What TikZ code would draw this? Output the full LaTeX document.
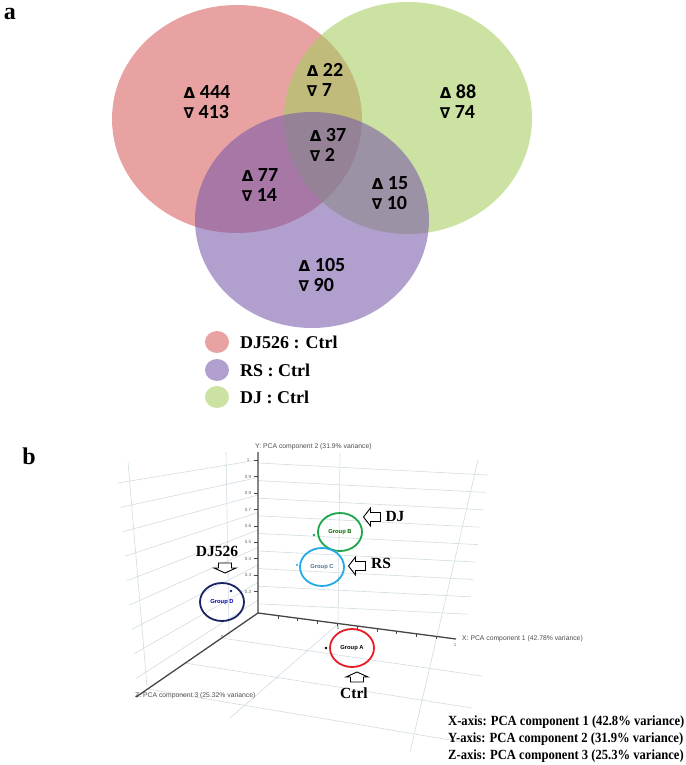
\documentclass[tikz,border=0pt]{standalone}
\usepackage{fontspec}
\setmainfont{Liberation Serif}
\newfontfamily\calfont{Carlito}
\newfontfamily\symfont{DejaVu Sans}
\newfontfamily\plotfont{Liberation Sans}
\usetikzlibrary{shapes.geometric}

\definecolor{vennred}{RGB}{215,95,95}
\definecolor{venngreen}{RGB}{165,205,95}
\definecolor{vennpurple}{RGB}{120,90,170}
\definecolor{gridc}{RGB}{208,220,226}
\definecolor{axisc}{RGB}{70,70,70}
\definecolor{grpA}{RGB}{228,30,36}
\definecolor{grpB}{RGB}{30,165,75}
\definecolor{grpC}{RGB}{35,170,230}
\definecolor{grpD}{RGB}{25,35,100}

\newcommand{\upsym}{{\symfont\bfseries\fontsize{15}{15}\selectfont Δ}}
\newcommand{\dnsym}{{\symfont\bfseries\fontsize{15}{15}\selectfont ∇}}

\begin{document}
\begin{tikzpicture}[x=1pt, y=-1pt,
  venn/.style={fill opacity=.58},
  cnt/.style={font=\calfont\bfseries\fontsize{20}{20}\selectfont, align=left, inner sep=0pt},
  legtxt/.style={font=\bfseries\fontsize{18}{20}\selectfont, anchor=west, inner sep=0pt},
  panel/.style={font=\bfseries\fontsize{24}{24}\selectfont, inner sep=0pt},
  gridln/.style={gridc, line width=0.6pt},
  axisln/.style={axisc, line width=1.3pt},
  axlbl/.style={font=\plotfont\fontsize{6.8}{7}\selectfont, text=black!70, inner sep=0pt, anchor=west},
  ticklbl/.style={font=\plotfont\fontsize{4.5}{5}\selectfont, text=black!60, inner sep=0pt},
  grp/.style={ellipse, draw, line width=1.8pt, minimum width=44pt, minimum height=38pt, inner sep=0pt,
    font=\plotfont\bfseries\fontsize{5.8}{6}\selectfont},
  tag/.style={font=\bfseries\fontsize{15.5}{16}\selectfont, inner sep=0pt},
  note/.style={font=\bfseries\fontsize{14}{17}\selectfont, inner sep=0pt, anchor=base west},
  harrow/.pic={\draw[line width=0.9pt, fill=white] (-8.5,-4.5) -- (1.5,-4.5) -- (1.5,-9) -- (8.5,0)
    -- (1.5,9) -- (1.5,4.5) -- (-8.5,4.5) -- cycle;},
  varrow/.pic={\draw[line width=0.9pt, fill=white] (-5,-6.5) -- (0,-6.5) -- (0,-11) -- (5,0)
    -- (0,11) -- (0,6.5) -- (-5,6.5) -- cycle;}
]
\useasboundingbox (0,0) rectangle (685,765);

% panel a: venn
\node[panel] (pa) at (10,14) {a};
\fill[vennred, venn] (237,119) ellipse [x radius=125pt, y radius=114pt];
\fill[venngreen, venn] (408,118) ellipse [x radius=124pt, y radius=116pt];
\fill[vennpurple, venn] (312,220) ellipse [x radius=117pt, y radius=108pt];

\node[cnt] (c444) at (207,102) {\upsym\ 444\\\dnsym\ 413};
\node[cnt] (c22) at (325,80) {\upsym\ 22\\\dnsym\ 7};
\node[cnt] (c88) at (458,102) {\upsym\ 88\\\dnsym\ 74};
\node[cnt] (c37) at (328,145) {\upsym\ 37\\\dnsym\ 2};
\node[cnt] (c77) at (260,185) {\upsym\ 77\\\dnsym\ 14};
\node[cnt] (c15) at (390,193) {\upsym\ 15\\\dnsym\ 10};
\node[cnt] (c105) at (322,275) {\upsym\ 105\\\dnsym\ 90};

% legend
\fill[vennred, venn] (217,342) ellipse [x radius=12pt, y radius=11pt];
\fill[vennpurple, venn] (217,370) ellipse [x radius=12pt, y radius=11pt];
\fill[venngreen, venn] (217,397) ellipse [x radius=12pt, y radius=11pt];
\node[legtxt] (legRed) at (240,342) {DJ526 : Ctrl};
\node[legtxt] (legPurple) at (240,370) {RS : Ctrl};
\node[legtxt] (legGreen) at (240,397) {DJ : Ctrl};

% panel b: pca
\node[panel] (pb) at (29,456) {b};
\coordinate (O) at (258,613);
\coordinate (ytip) at (258,452);
\coordinate (xtip) at (456,639);
\coordinate (ztip) at (136,697);

\foreach \i in {0,...,8}
  \draw[gridln] (258,463+17.6*\i) -- (488-2.5*\i,475+17.4*\i);
\foreach \i in {0,...,8}
  \draw[gridln] (258,460+17.5*\i) -- (118+2.3*\i,483+24.4*\i);
\draw[gridln] (128,462) -- (147,687);
\draw[gridln] (226,452) -- (229,637);
\draw[gridln] (340,453) -- (338,622);
\draw[gridln] (478,460) -- (410,752);
\draw[gridln] (338,624) -- (230,718);
\draw[gridln] (221,638) -- (482,676);
\draw[gridln] (185,663) -- (472,708);
\draw[gridln] (148,689) -- (462,742);

\draw[axisln] (ztip) -- (O) -- (ytip);
\draw[axisln] (O) -- (xtip);
\foreach \lab [count=\n] in {1,0.9,0.8,0.7,0.6,0.5,0.4,0.3,0.2} {
  \draw[axisc, line width=0.8pt] (254,444+16.4*\n) -- (258,444+16.4*\n);
  \node[ticklbl] (ytick\n) at (248,444+16.4*\n) {\lab};
}
\foreach \t in {1,...,9}
  \draw[axisc, line width=0.6pt] (258+19.8*\t,613+2.6*\t) -- (258+19.8*\t,616+2.6*\t);
\node[ticklbl] (xtick0) at (338,628) {0};
\node[ticklbl] (xtick1) at (455,645) {1};
\node[ticklbl] (ztick0) at (222,637) {0};

\node[axlbl] (ylab) at (255,447) {Y: PCA component 2 (31.9\% variance)};
\node[axlbl] (xlab) at (462,639) {X: PCA component 1 (42.78\% variance)};
\node[axlbl] (zlab) at (135,696) {Z: PCA component 3 (25.32\% variance)};

% groups
\fill[grpB] (314,535) circle (1.3pt);
\fill[grpC] (297,565) circle (1.1pt);
\fill[black] (326,648) circle (1.3pt);
\fill[grpD!70!blue] (231,591) circle (1.3pt);
\node[grp, draw=grpB, text=green!40!black] (grpB) at (340,532) {Group B};
\node[grp, draw=grpC, text=cyan!50!black] (grpC) at (322,567) {Group C};
\node[grp, draw=grpA, text=black] (grpA) at (352,648) {Group A};
\node[grp, draw=grpD, text=blue!70!black] (grpD) at (222,602) {Group D};

% markers
\pic[rotate=180] at (372,517) {harrow};
\pic[rotate=180] at (357,566) {harrow};
\pic[rotate=-90] at (225,568) {varrow};
\pic[rotate=90] at (357,677) {varrow};
\node[tag] (tDJ) at (395,516) {DJ};
\node[tag] (tRS) at (381,563) {RS};
\node[tag] (tDJ526) at (217,551) {DJ526};
\node[tag] (tCtrl) at (354,693) {Ctrl};

\node[note] (nX) at (448,725) {\scalebox{.9}[1]{X-axis: PCA component 1 (42.8\% variance)}};
\node[note] (nY) at (448,742) {\scalebox{.9}[1]{Y-axis: PCA component 2 (31.9\% variance)}};
\node[note] (nZ) at (448,759) {\scalebox{.9}[1]{Z-axis: PCA component 3 (25.3\% variance)}};
\end{tikzpicture}
\end{document}
